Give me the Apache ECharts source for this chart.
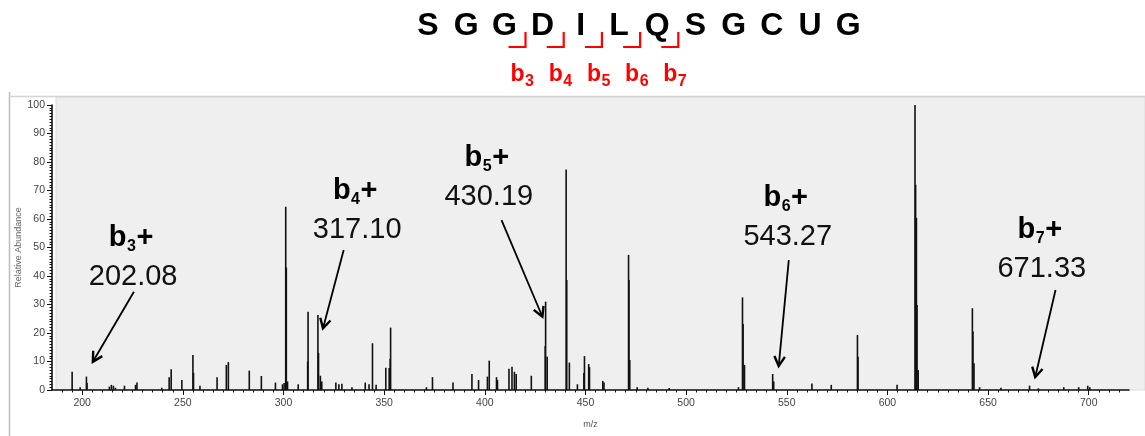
<!DOCTYPE html>
<html>
<head>
<meta charset="utf-8">
<script src="https://cdn.jsdelivr.net/npm/echarts@6/dist/echarts.min.js"></script>
<style>
  html, body { margin: 0; padding: 0; background: #ffffff; }
  #chart { width: 1145px; height: 436px; }
</style>
</head>
<body>
<div id="chart"></div>
<script>
// Peptide sequence shown above the spectrum
const peptide = ['S', 'G', 'G', 'D', 'I', 'L', 'Q', 'S', 'G', 'C', 'U', 'G'];

// b-ion series: cleavage after residue n, and observed m/z
const ionResidue = [3, 4, 5, 6, 7];
const ionMzText = ['202.08', '317.10', '430.19', '543.27', '671.33'];

// Annotation placement in data units (m/z, relative abundance)
const labelMz = [224.3, 335.6, 401.0, 549.5, 675.7];
const labelAbund = [53.2, 69.7, 81.3, 67.5, 56.3];
const arrowFromMz = [225.7, 329.9, 408.3, 551.0, 683.5];
const arrowFromAbund = [34.5, 49.1, 59.6, 45.6, 35.1];
const arrowToMz = [205.3, 319.6, 428.6, 546.0, 673.4];
const arrowToAbund = [9.9, 21.6, 25.7, 8.4, 4.5];

// Centroided peaks: m/z and relative abundance (%)
const peakMz = [
  195.0, 199.0, 202.1, 202.4, 213.5, 214.5, 215.5, 216.5, 221.0, 226.5,
  227.2, 239.5, 243.2, 244.2, 249.5, 255.0, 255.3, 258.5, 267.0, 271.6,
  272.6, 283.0, 289.0, 296.0, 299.5, 300.3, 301.1, 301.4, 302.0, 307.3,
  312.0, 312.2, 317.1, 317.4, 318.3, 319.0, 326.0, 327.5, 329.0, 334.0,
  340.6, 342.5, 344.2, 346.0, 350.8, 352.5, 353.0, 353.2, 371.0, 374.0,
  384.2, 393.6, 396.9, 401.3, 402.2, 405.8, 406.3, 412.0, 413.5, 414.7,
  415.6, 423.1, 430.0, 430.2, 431.0, 440.4, 440.7, 442.0, 446.0, 449.2,
  449.5, 451.6, 452.0, 458.6, 459.2, 471.4, 471.6, 472.0, 475.7, 481.0,
  491.6, 526.0, 528.0, 528.3, 529.0, 543.0, 543.5, 562.5, 572.1, 585.1,
  585.4, 604.8, 613.7, 614.0, 614.4, 614.7, 615.3, 642.2, 642.5, 643.0,
  645.8, 656.4, 670.6, 675.0, 687.6, 695.0, 699.5, 700.5
];
const peakAbundance = [
  6.4, 1.0, 4.7, 2.5, 1.2, 1.8, 1.5, 0.8, 1.5, 1.8,
  2.6, 0.8, 4.5, 7.3, 3.5, 12.3, 6.0, 1.5, 4.5, 8.8,
  9.8, 6.8, 4.9, 2.6, 2.0, 2.5, 64.3, 43.0, 3.0, 2.0,
  10.0, 27.5, 26.3, 13.0, 5.0, 3.0, 2.6, 2.0, 2.2, 1.0,
  2.6, 2.0, 16.4, 1.8, 7.8, 7.7, 11.0, 21.9, 1.0, 4.5,
  2.6, 5.6, 3.5, 4.7, 10.3, 4.5, 3.5, 7.5, 8.2, 6.4,
  5.6, 5.0, 15.4, 31.0, 11.7, 77.4, 38.6, 9.6, 2.0, 6.0,
  11.9, 9.1, 8.0, 3.2, 2.6, 47.4, 38.6, 10.5, 1.0, 0.8,
  0.7, 1.0, 32.5, 23.2, 8.8, 5.6, 3.0, 2.3, 1.8, 19.3,
  11.7, 1.8, 100.0, 72.0, 60.4, 29.8, 7.0, 28.7, 20.5, 9.4,
  1.0, 0.8, 1.5, 0.6, 1.0, 1.0, 1.5, 1.0
];

// Axis ticks
const xTickValues = [200, 250, 300, 350, 400, 450, 500, 550, 600, 650, 700];
const xMinorStep = 5;
const xMin = 185, xMax = 720;

const xMinorTicks = [];
for (let v = 190; v < xMax; v += xMinorStep) xMinorTicks.push(v);

const FONT = '"Liberation Sans", Arial, sans-serif';

const chart = echarts.init(document.getElementById('chart'), null, { renderer: 'canvas' });

const baseAxis = {
  type: 'value',
  min: xMin,
  max: xMax,
  splitLine: { show: false }
};

chart.setOption({
  animation: false,
  backgroundColor: '#ffffff',
  grid: { left: 52, right: 16, top: 105, bottom: 46, containLabel: false },
  xAxis: [
    Object.assign({}, baseAxis, {
      position: 'bottom',
      axisLine: { show: true, lineStyle: { color: '#111', width: 1.6 } },
      axisTick: { show: true, customValues: xTickValues, length: 5, lineStyle: { color: '#111', width: 1 } },
      axisLabel: { show: true, customValues: xTickValues, fontFamily: FONT, fontSize: 10.5, color: '#444', margin: 8 },
      name: 'm/z',
      nameLocation: 'middle',
      nameGap: 30,
      nameMoveOverlap: false,
      nameTextStyle: { fontFamily: FONT, fontSize: 9, color: '#555' }
    }),
    Object.assign({}, baseAxis, {
      position: 'bottom',
      axisLine: { show: false },
      axisTick: { show: true, customValues: xMinorTicks, length: 2.5, lineStyle: { color: '#111', width: 1 } },
      axisLabel: { show: false }
    })
  ],
  yAxis: {
    type: 'value',
    min: 0,
    max: 100,
    interval: 10,
    splitLine: { show: false },
    axisLine: { show: true, lineStyle: { color: '#111', width: 1.6 } },
    axisTick: { show: true, length: 5, lineStyle: { color: '#111', width: 1 } },
    minorTick: { show: true, splitNumber: 10, length: 2.5, lineStyle: { color: '#111', width: 1 } },
    axisLabel: { fontFamily: FONT, fontSize: 10.5, color: '#444', margin: 7 },
    name: 'Relative Abundance',
    nameLocation: 'middle',
    nameGap: 29,
    nameMoveOverlap: false,
    nameRotate: 90,
    nameTextStyle: { fontFamily: FONT, fontSize: 9, color: '#666' }
  },
  series: [{
    type: 'custom',
    xAxisIndex: 0,
    yAxisIndex: 0,
    clip: true,
    z: 3,
    data: peakMz.map((m, i) => [m, peakAbundance[i]]),
    encode: { x: 0, y: 1 },
    renderItem: function (params, api) {
      const mz = api.value(0);
      const ab = api.value(1);
      const base = api.coord([mz, 0]);
      const top = api.coord([mz, ab]);
      return {
        type: 'line',
        shape: { x1: base[0], y1: base[1], x2: top[0], y2: top[1] },
        style: { stroke: '#111', lineWidth: 1.6 }
      };
    }
  }]
});

// ---- overlay graphics: panel, sequence with cleavage marks, ion annotations ----
const elements = [];

// Panel background and frame
elements.push({
  type: 'rect', z: -20, silent: true,
  shape: { x: 56, y: 97, width: 1145 - 56, height: 293 },
  style: { fill: '#efefef', stroke: '#dcdcdc', lineWidth: 1 }
});
elements.push({
  type: 'line', z: -10, silent: true,
  shape: { x1: 9.5, y1: 92, x2: 9.5, y2: 436 },
  style: { stroke: '#bdbdbd', lineWidth: 1.5 }
});
elements.push({
  type: 'line', z: -10, silent: true,
  shape: { x1: 9, y1: 96.5, x2: 1145, y2: 96.5 },
  style: { stroke: '#d4d4d4', lineWidth: 1.5 }
});

// Sequence letters
const seqStart = 428, seqStep = 38.2;
const seqX = peptide.map((_, i) => seqStart + i * seqStep);
peptide.forEach((aa, i) => {
  elements.push({
    type: 'text', silent: true,
    style: {
      text: aa, x: seqX[i], y: 26,
      fill: '#000', font: 'bold 32px ' + FONT,
      align: 'center', verticalAlign: 'middle'
    }
  });
});

// Subscripted ion name: "b" + digit (+ optional suffix)
function ionName(xLeft, yMid, digit, suffix, size, subSize, color) {
  const bW = 0.611 * size;
  const dW = 0.556 * subSize;
  const out = [];
  out.push({ type: 'text', silent: true, style: { text: 'b', x: xLeft, y: yMid, fill: color, font: 'bold ' + size + 'px ' + FONT, align: 'left', verticalAlign: 'middle' } });
  out.push({ type: 'text', silent: true, style: { text: String(digit), x: xLeft + bW + 0.5, y: yMid + size * 0.3, fill: color, font: 'bold ' + subSize + 'px ' + FONT, align: 'left', verticalAlign: 'middle' } });
  if (suffix) {
    out.push({ type: 'text', silent: true, style: { text: suffix, x: xLeft + bW + dW + 1, y: yMid, fill: color, font: 'bold ' + size + 'px ' + FONT, align: 'left', verticalAlign: 'middle' } });
  }
  return out;
}

// Cleavage brackets and red b-labels
ionResidue.forEach((n) => {
  const mid = (seqX[n - 1] + seqX[n]) / 2;
  const vx = mid + 2;
  elements.push({
    type: 'polyline', silent: true,
    shape: { points: [[vx, 32], [vx, 47], [vx - 17, 47]] },
    style: { stroke: '#ff0000', lineWidth: 2.2, fill: null }
  });
  ionName(vx - 15, 75, n, '', 23, 16, '#ff0000').forEach(e => elements.push(e));
});

// Spectrum annotations with arrows
function arrow(p0, p1) {
  const ang = Math.atan2(p1[1] - p0[1], p1[0] - p0[0]);
  const L = 11, spread = 0.5;
  const a1 = [p1[0] - L * Math.cos(ang - spread), p1[1] - L * Math.sin(ang - spread)];
  const a2 = [p1[0] - L * Math.cos(ang + spread), p1[1] - L * Math.sin(ang + spread)];
  return [
    { type: 'line', silent: true, shape: { x1: p0[0], y1: p0[1], x2: p1[0], y2: p1[1] }, style: { stroke: '#000', lineWidth: 1.8 } },
    { type: 'polyline', silent: true, shape: { points: [a1, p1, a2] }, style: { stroke: '#000', lineWidth: 2.4, fill: null, lineJoin: 'miter' } }
  ];
}

ionResidue.forEach((n, i) => {
  const anchor = chart.convertToPixel({ xAxisIndex: 0, yAxisIndex: 0 }, [labelMz[i], labelAbund[i]]);
  const size = 29, sub = 16;
  const w = 0.611 * size + 0.556 * sub + 0.584 * size + 1;
  ionName(anchor[0] - w / 2, anchor[1], n, '+', size, sub, '#000').forEach(e => elements.push(e));
  elements.push({
    type: 'text', silent: true,
    style: { text: ionMzText[i], x: anchor[0] + 2, y: anchor[1] + 39, fill: '#111', font: '29px ' + FONT, align: 'center', verticalAlign: 'middle' }
  });
  const p0 = chart.convertToPixel({ xAxisIndex: 0, yAxisIndex: 0 }, [arrowFromMz[i], arrowFromAbund[i]]);
  const p1 = chart.convertToPixel({ xAxisIndex: 0, yAxisIndex: 0 }, [arrowToMz[i], arrowToAbund[i]]);
  arrow(p0, p1).forEach(e => elements.push(e));
});

chart.setOption({ graphic: { elements: elements } });
</script>
</body>
</html>
